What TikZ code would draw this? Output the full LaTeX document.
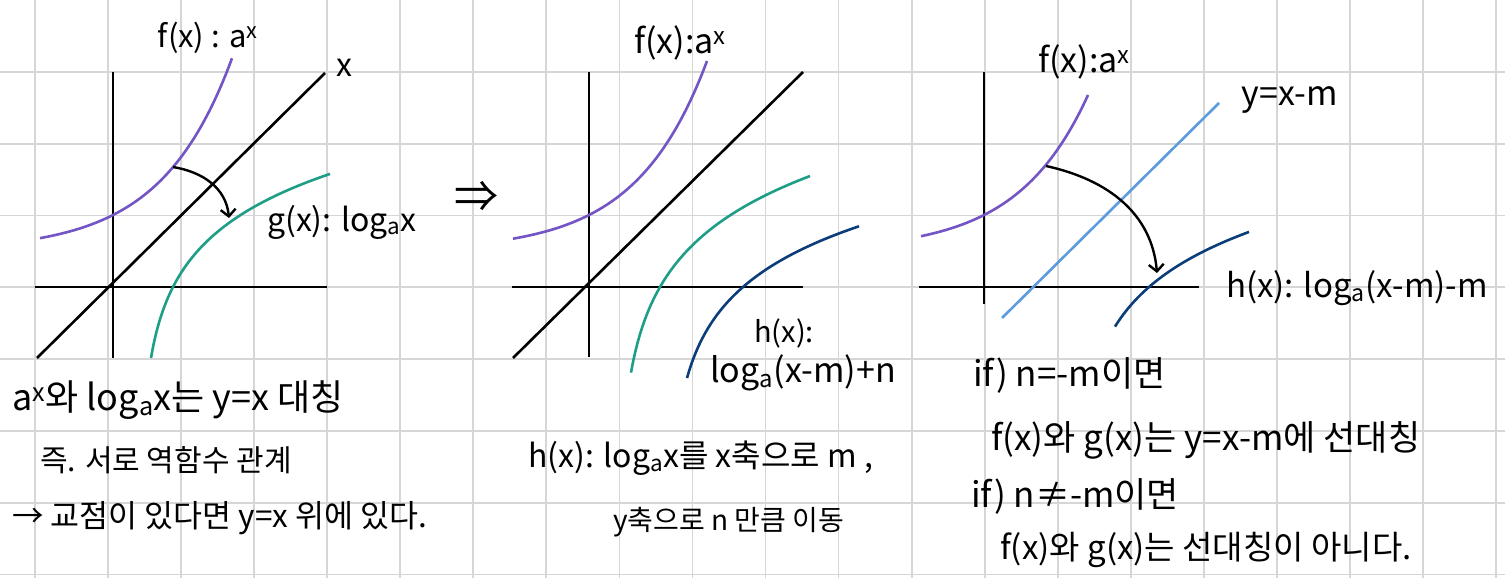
\documentclass[tikz,border=0pt]{standalone}
\usepackage{fontspec}
\usetikzlibrary{arrows.meta}
\newfontfamily\hand{Noto Sans CJK KR}
\definecolor{gridgray}{HTML}{D6D6D6}
\definecolor{fpurple}{HTML}{7355C5}
\definecolor{ggreen}{HTML}{1F9E87}
\definecolor{hblue}{HTML}{0B3D7A}
\definecolor{lblue}{HTML}{5C9BDE}
\newcommand\hsup[1]{\textsuperscript{#1}}
\newcommand\hsub[1]{\textsubscript{#1}}
\tikzset{
  gridline/.style={draw=gridgray, line width=1.8},
  axis/.style={draw=black, line width=2.6},
  fcurve/.style={draw=fpurple, line width=2.6},
  gcurve/.style={draw=ggreen, line width=2.6},
  hcurve/.style={draw=hblue, line width=2.6},
  mline/.style={draw=lblue, line width=2.6},
  arr/.style={draw=black, line width=2.4, -{Straight Barb[length=7pt,width=15pt,line width=2.4pt]}},
  lbl/.style={font=\hand\fontsize{#1}{#1}\selectfont, inner sep=0pt, text=black},
  lbl/.default=32,
}
\begin{document}
\begin{tikzpicture}[x=1pt,y=-1pt]
\useasboundingbox (0,0) rectangle (1505,578);
\fill[white] (0,0) rectangle (1505,578);
% grid
\foreach \i in {0,...,20} \draw[gridline] ({35+73.05*\i},0) -- ({35+73.05*\i},578);
\foreach \j in {1,...,8} \draw[gridline] (0,{71.8*\j}) -- (1505,{71.8*\j});

% ---------- panel 1 ----------
\draw[axis] (113,72) -- (113,358);
\draw[axis] (35,287) -- (327,287);
\draw[axis] (37,358) -- (325,73);
\draw[fcurve] plot[domain=-73:119, samples=60, smooth] ({113+\x},{287-(36+36*exp(0.0141*\x))});
\draw[gcurve] plot[domain=38:217, samples=90, smooth] ({113+\x},{287-64.6*ln((\x-27)/33)});
\coordinate (a1s) at (173,167);
\coordinate (a1e) at (229,218);
\draw[arr] (a1s) .. controls (203,172) and (226,188) .. (a1e);
\node[lbl=31] (f1) at (208,38) {f(x) : a\hsup{x}};
\node[lbl=32] (x1) at (344,68) {x};
\node[lbl=32] (g1) at (342,222) {g(x): log\hsub{a}x};
\node[lbl=44] (dbl) at (476,197) {⇒};
\node[lbl=36, anchor=west] (t11) at (12,400) {a\hsup{x}와 log\hsub{a}x는 y=x 대칭};
\node[lbl=30, anchor=west] (t12) at (40,460) {즉. 서로 역함수 관계};
\node[lbl=31.5, anchor=west] (t13) at (12,518) {→ 교점이 있다면 y=x 위에 있다.};

% ---------- panel 2 ----------
\draw[axis] (589,72) -- (589,357);
\draw[axis] (512,287) -- (803,287);
\draw[axis] (513,358) -- (803,72);
\draw[fcurve] plot[domain=-76:118, samples=60, smooth] ({589+\x},{287-(36+36*exp(0.0141*\x))});
\draw[gcurve] plot[domain=42:221, samples=90, smooth] ({589+\x},{287-73*ln((\x-29)/42)});
\draw[hcurve] plot[domain=98:270, samples=90, smooth] ({589+\x},{287-64.4*ln((\x-80)/74)});
\node[lbl=34] (f2) at (680,43) {f(x):a\hsup{x}};
\node[lbl=29] (h2a) at (784,333) {h(x):};
\node[lbl=34] (h2b) at (803,373) {log\hsub{a}(x-m)+n};
\node[lbl=32, anchor=west] (t21) at (528,458) {h(x): log\hsub{a}x를 x축으로 m ,};
\node[lbl=28, anchor=west] (t22) at (613,522) {y축으로 n 만큼 이동};

% ---------- panel 3 ----------
\draw[axis] (984,72) -- (984,304);
\draw[axis] (919,287) -- (1199,287);
\draw[mline] (1002,318) -- (1219,103);
\draw[fcurve] plot[domain=-63:104, samples=60, smooth] ({984+\x},{287-(36+36*exp(0.0141*\x))});
\draw[hcurve] plot[domain=131:265, samples=80, smooth] ({984+\x},{287-64.4*ln((\x-91)/74)});
\coordinate (a3s) at (1046,166);
\coordinate (a3e) at (1157,273);
\draw[arr] (a3s) .. controls (1110,180) and (1152,215) .. (a3e);
\node[lbl=34] (f3) at (1084,62) {f(x):a\hsup{x}};
\node[lbl=34] (m3) at (1290,100) {y=x-m};
\node[lbl=33, anchor=west] (h3) at (1226,288) {h(x): log\hsub{a}(x-m)-m};
\node[lbl=35, anchor=west] (t31) at (973,375) {if) n=-m이면};
\node[lbl=35, anchor=west] (t32) at (991,440) {f(x)와 g(x)는 y=x-m에 선대칭};
\node[lbl=35, anchor=west] (t33) at (971,496) {if) n≠-m이면};
\node[lbl=33, anchor=west] (t34) at (1000,550) {f(x)와 g(x)는 선대칭이 아니다.};
\end{tikzpicture}
\end{document}
